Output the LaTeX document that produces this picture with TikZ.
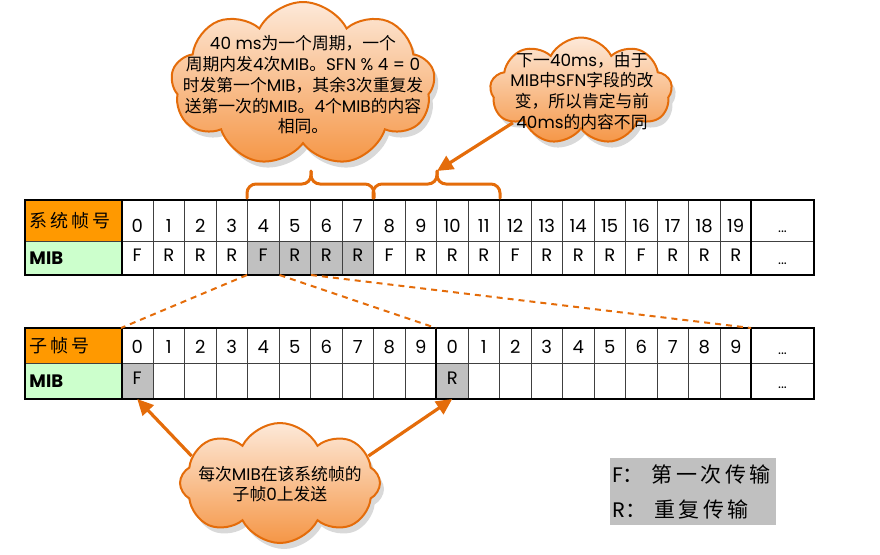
\documentclass[tikz,border=0pt]{standalone}
\usepackage{fontspec}
\setmainfont{Poppins}
\newfontfamily\cjkfont{Noto Sans CJK SC}
\newcommand\zhs[1]{{\cjkfont #1}}
\usetikzlibrary{shapes.symbols,shadows,arrows.meta,calc}
\definecolor{hdrorange}{RGB}{255,153,0}
\definecolor{hdrgreen}{RGB}{204,255,204}
\definecolor{cellgrey}{RGB}{192,192,192}
\definecolor{lineorange}{RGB}{228,108,10}
\definecolor{cloudtop}{RGB}{253,233,217}
\definecolor{cloudbot}{RGB}{245,150,70}
\begin{document}
\begin{tikzpicture}[x=0.5pt,y=-0.5pt,
  gridc/.style={draw=black!75, line width=0.5pt, inner sep=0pt, anchor=north west,
    minimum width=15.75pt, font=\fontsize{9}{10}\selectfont},
  rowA/.style={gridc, minimum height=20.5pt, text height=11pt, text depth=0pt},
  rowB/.style={gridc, minimum height=16.5pt, text height=3.9pt, text depth=0pt},
  rowC/.style={gridc, minimum height=17.5pt, text height=7.9pt, text depth=0pt},
  rowD/.style={gridc, minimum height=17.5pt, text height=3.9pt, text depth=0pt},
  hdr/.style={draw=black!75, line width=0.5pt, anchor=north west, inner xsep=2pt, inner ysep=0pt,
    minimum width=48pt, text width=44pt, align=left, font=\fontsize{9}{10}\selectfont},
  dotsc/.style={minimum width=31pt, font=\fontsize{7}{8}\selectfont},
  thickline/.style={draw=black, line width=1.1pt},
  dashline/.style={draw=lineorange, line width=1pt, dash pattern=on 3pt off 2.5pt},
  bracel/.style={draw=lineorange, line width=1.5pt, rounded corners=4.5pt, line cap=round},
  arr/.style={draw=lineorange, line width=1.6pt, -{Triangle[length=8pt,width=7.5pt]}},
  cloudy/.style={shape=cloud, cloud puffs=9, cloud puff arc=125, draw=lineorange, line width=1pt,
    top color=cloudtop, bottom color=cloudbot, inner sep=0pt,
    drop shadow={shadow xshift=2pt, shadow yshift=-3pt, opacity=0.3}},
  cloudtext/.style={align=center, inner sep=0pt, font=\fontsize{8.4}{10.4}\selectfont},
  legend/.style={fill=cellgrey, anchor=north west, minimum width=83pt, minimum height=33.5pt,
    text width=81pt, inner xsep=1pt, inner ysep=0pt, align=left, font=\fontsize{10.5}{17.5}\selectfont}
]
\useasboundingbox (0,0) rectangle (880,554);

% ---------- top table ----------
\node[hdr, minimum height=20.5pt, fill=hdrorange] (t1-h) at (25,200) {\zhs{系\,统\,帧\,号}};
\node[hdr, minimum height=16.5pt, fill=hdrgreen] (t2-h) at (25,241) {\bfseries MIB};
\foreach \i/\m/\c in {0/F/white,1/R/white,2/R/white,3/R/white,4/F/cellgrey,5/R/cellgrey,6/R/cellgrey,7/R/cellgrey,8/F/white,9/R/white,10/R/white,11/R/white,12/F/white,13/R/white,14/R/white,15/R/white,16/F/white,17/R/white,18/R/white,19/R/white}{
  \node[rowA, fill=white] (t1-\i) at ({121+31.5*\i},200) {\i};
  \node[rowB, fill=\c] (t2-\i) at ({121+31.5*\i},241) {\m};
}
\node[rowA, dotsc, text height=11.5pt] (t1-d) at (751,200) {...};
\node[rowB, dotsc, text height=6.5pt] (t2-d) at (751,241) {...};
\draw[thickline] (t1-h.north west) rectangle (t2-d.south east);
\draw[thickline] (t1-h.north east) -- (t2-h.south east);
\draw[thickline] (t1-d.north west) -- (t2-d.south west);

% ---------- bottom table ----------
\node[hdr, minimum height=17.5pt, fill=hdrorange] (b1-h) at (25,328) {\zhs{子\,帧\,号}};
\node[hdr, minimum height=17.5pt, fill=hdrgreen] (b2-h) at (25,363) {\bfseries MIB};
\foreach \i in {0,...,19}{
  \pgfmathtruncatemacro\d{mod(\i,10)}
  \ifnum\d=0 \def\c{cellgrey}\ifnum\i=0 \def\m{F}\else\def\m{R}\fi\else\def\c{white}\def\m{}\fi
  \node[rowC, fill=white] (b1-\i) at ({121+31.5*\i},328) {\d};
  \node[rowD, fill=\c] (b2-\i) at ({121+31.5*\i},363) {\m};
}
\node[rowC, dotsc, text height=8.5pt] (b1-d) at (751,328) {...};
\node[rowD, dotsc, text height=7.5pt] (b2-d) at (751,363) {...};
\draw[thickline] (b1-h.north west) rectangle (b2-d.south east);
\draw[thickline] (b1-h.north east) -- (b2-h.south east);
\draw[thickline] (b1-10.north west) -- (b2-10.south west);
\draw[thickline] (b1-d.north west) -- (b2-d.south west);

% ---------- dashed mapping lines ----------
\draw[dashline] (t2-4.south west) -- (b1-0.north west);
\draw[dashline] (t2-4.south east) -- (b1-10.north west);
\draw[dashline] (t2-5.south east) -- (b1-d.north west);

% ---------- braces ----------
\coordinate (tipL) at ($(t1-5.north east)+(0,-29)$);
\coordinate (midL) at ($(t1-5.north east)+(0,-16)$);
\coordinate (tipR) at ($(t1-9.north east)+(0,-29)$);
\coordinate (midR) at ($(t1-9.north east)+(0,-16)$);
\draw[bracel] ([yshift=1pt]t1-4.north west) |- (midL) -- (tipL);
\draw[bracel] ([yshift=1pt]t1-7.north east) |- (midL) -- (tipL);
\draw[bracel] ([yshift=1pt]t1-8.north west) |- (midR) -- (tipR);
\draw[bracel] ([yshift=1pt]t1-11.north east) |- (midR) -- (tipR);

% ---------- clouds ----------
\node[cloudy, minimum width=132pt, minimum height=82pt] (c1) at (303,84) {};
\node[cloudtext] (c1t) at (303,85) {%
  40 ms\zhs{为一个周期，一个}\\
  \zhs{周期内发}4\zhs{次}MIB\zhs{。}SFN \% 4 = 0\\
  \zhs{时发第一个}MIB\zhs{，其余}3\zhs{次重复发}\\
  \zhs{送第一次的}MIB\zhs{。}4\zhs{个}MIB\zhs{的内容}\\
  \zhs{相同。}};

\node[cloudy, minimum width=91pt, minimum height=53.5pt] (c2) at (581,91) {};
\node[cloudtext] (c2t) at (582,91) {%
  \zhs{下一}40ms\zhs{，由于}\\
  MIB\zhs{中}SFN\zhs{字段的改}\\
  \zhs{变，所以肯定与前}\\
  40ms\zhs{的内容不同}};

\node[cloudy, cloud puffs=8, minimum width=100pt, minimum height=60pt] (c3) at (280,483) {};
\node[cloudtext] (c3t) at (280,484) {%
  \zhs{每次}MIB\zhs{在该系统帧的}\\
  \zhs{子帧}0\zhs{上发送}};

% ---------- arrows ----------
\draw[arr] (c2.205) -- (tipR);
\draw[arr] (c3.163) -- (b2-0.south);
\draw[arr] (c3.17) -- (b2-10.south);

% ---------- legend ----------
\node[legend] (leg) at (610,458) {%
  F\zhs{：}\hspace{4pt}\zhs{第\,一\,次\,传\,输}\\
  R\zhs{：}\hspace{4pt}\zhs{重\,复\,传\,输}};
\end{tikzpicture}
\end{document}
